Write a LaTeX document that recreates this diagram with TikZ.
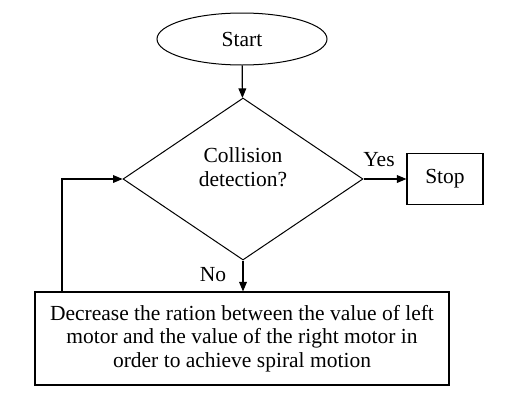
\documentclass[tikz,border=0pt]{standalone}
\usepackage{fontspec}
\setmainfont{Liberation Serif}
\usetikzlibrary{shapes.geometric,arrows}

\begin{document}
\begin{tikzpicture}[x=1pt,y=-1pt,
    every node/.style={font=\fontsize{21.5}{23.5}\selectfont},
    terminal/.style={draw,ellipse,line width=1pt,minimum width=170pt,minimum height=52pt,inner sep=0pt},
    decision/.style={draw,diamond,line width=1pt,minimum width=240pt,minimum height=162pt,inner sep=0pt,align=center},
    process/.style={draw,rectangle,line width=1.2pt,inner sep=0pt,align=center},
    flow/.style={-triangle 45,line width=1.2pt}]
  \useasboundingbox (0,0) rectangle (519,402);
  \node[terminal] (start) at (242,39) {Start};
  \node[decision] (collision) at (243,179) {Collision\\detection?\\\mbox{}};
  \node[process,minimum width=76pt,minimum height=51pt] (stop) at (445,179) {Stop};
  \node[process,minimum width=414pt,minimum height=93pt] (spiral) at (242,338.5)
    {Decrease the ration between the value of left\\motor and the value of the right motor in\\order to achieve spiral motion};
  \node (yes) at (379,160) {Yes};
  \node (no) at (213,275) {No};
  \coordinate (loop) at (62,179);

  \draw[flow] (start) -- (collision);
  \draw[flow] (collision.east) -- (stop.west);
  \draw[flow] (collision.south) -- (collision.south |- spiral.north);
  \draw[flow] (spiral.north -| loop) |- (collision.west);
\end{tikzpicture}
\end{document}
